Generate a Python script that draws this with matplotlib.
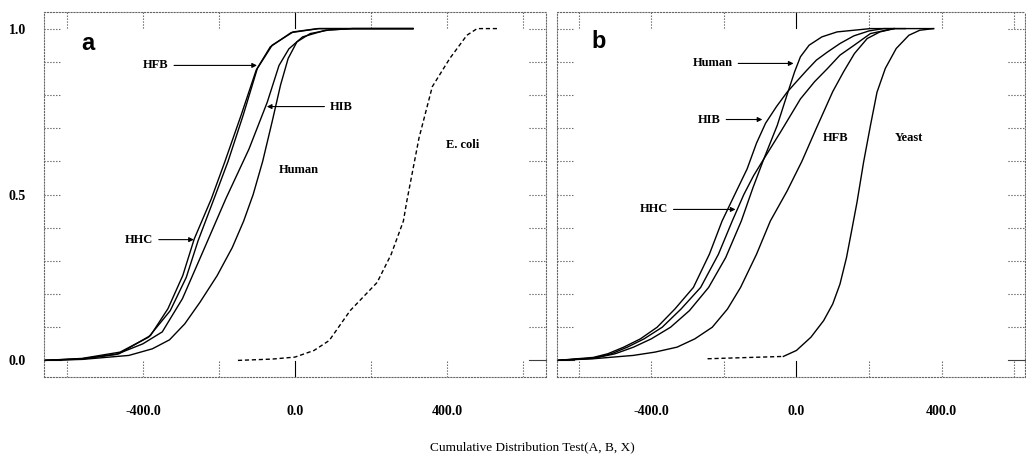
import numpy as np
import matplotlib.pyplot as plt

plt.rcParams['font.family'] = ['Liberation Serif', 'DejaVu Serif']

# ---- panel a: cumulative distributions ----
hfb_a_x = [-660, -560, -460, -385, -328, -286, -255, -212, -176, -136, -99, -60, -5, 60, 310]
hfb_a_y = [0.0, 0.006, 0.025, 0.07, 0.15, 0.25, 0.36, 0.49, 0.60, 0.74, 0.88, 0.95, 0.99, 1.0, 1.0]

hhc_a_x = [-660, -560, -463, -380, -334, -295, -265, -220, -185, -142, -102, -65, -10, 63, 310]
hhc_a_y = [0.0, 0.005, 0.02, 0.075, 0.156, 0.256, 0.366, 0.487, 0.597, 0.738, 0.875, 0.945, 0.988, 1.0, 1.0]

hib_a_x = [-660, -560, -470, -400, -349, -296, -239, -182, -121, -73, -42, -16, 20, 80, 150, 310]
hib_a_y = [0.0, 0.004, 0.018, 0.05, 0.086, 0.186, 0.336, 0.487, 0.637, 0.778, 0.889, 0.939, 0.975, 0.995, 1.0, 1.0]

human_a_x = [-660, -560, -437, -375, -330, -290, -250, -205, -165, -135, -110, -85, -60, -38, -18, 5, 40, 90, 151, 310]
human_a_y = [0.0, 0.003, 0.015, 0.035, 0.062, 0.11, 0.175, 0.255, 0.34, 0.42, 0.50, 0.60, 0.72, 0.83, 0.91, 0.96, 0.985, 0.996, 1.0, 1.0]

ecoli_x = [-150, -60, 0, 50, 90, 145, 216, 253, 285, 294, 326, 361, 407, 452, 479, 538]
ecoli_y = [0.0, 0.004, 0.01, 0.03, 0.06, 0.15, 0.235, 0.32, 0.42, 0.48, 0.67, 0.825, 0.91, 0.98, 1.0, 1.0]

# ---- panel b ----
human_b_x = [-660, -560, -500, -449, -400, -347, -295, -242, -195, -152, -120, -90, -53, -26,
             -5, 11, 35, 70, 112, 204, 378]
human_b_y = [0.0, 0.006, 0.02, 0.04, 0.065, 0.10, 0.15, 0.22, 0.31, 0.42, 0.52, 0.607, 0.708, 0.80,
             0.87, 0.915, 0.95, 0.975, 0.99, 1.0, 1.0]

hib_b_x = [-660, -560, -520, -476, -430, -384, -335, -284, -240, -205, -170, -136, -110, -85, -55,
           -26, 0, 29, 55, 85, 120, 158, 200, 240, 300]
hib_b_y = [0.0, 0.009, 0.02, 0.04, 0.065, 0.10, 0.155, 0.22, 0.32, 0.42, 0.50, 0.577, 0.655, 0.715, 0.765,
           0.808, 0.84, 0.875, 0.905, 0.929, 0.955, 0.978, 0.993, 1.0, 1.0]

hhc_b_x = [-660, -560, -510, -466, -420, -370, -318, -264, -215, -177, -145, -118, -90, -44, 11,
           50, 85, 120, 158, 204, 268]
hhc_b_y = [0.0, 0.007, 0.02, 0.04, 0.065, 0.10, 0.155, 0.22, 0.32, 0.42, 0.50, 0.557, 0.607, 0.688, 0.788,
           0.84, 0.879, 0.92, 0.949, 0.985, 1.0]

hfb_b_x = [-660, -560, -450, -390, -329, -280, -232, -190, -154, -110, -72, -26, 15, 55, 100,
           130, 160, 195, 230, 270]
hfb_b_y = [0.0, 0.005, 0.015, 0.025, 0.04, 0.065, 0.10, 0.155, 0.22, 0.32, 0.42, 0.51, 0.60, 0.70, 0.81,
           0.87, 0.925, 0.97, 0.99, 1.0]

yeast_tail_x = [-245, -36]
yeast_tail_y = [0.005, 0.012]
yeast_x = [-36, 0, 40, 75, 100, 120, 138, 152, 167, 185, 204, 222, 245, 275, 310, 340, 378]
yeast_y = [0.012, 0.03, 0.07, 0.12, 0.17, 0.23, 0.31, 0.39, 0.477, 0.597, 0.708, 0.808, 0.88, 0.94,
           0.98, 0.995, 1.0]

W, H = 1026, 459
fig = plt.figure(figsize=(W / 100, H / 100), dpi=100)

ax_a = fig.add_axes([44 / W, 1 - 377 / H, 502 / W, 365 / H])
ax_b = fig.add_axes([557 / W, 1 - 377 / H, 468 / W, 365 / H])
ax_a.set_xlim(-660, 660)
ax_b.set_xlim(-660, 630)


def frame(ax, width_px):
    for s in ax.spines.values():
        s.set_linestyle(':')
        s.set_linewidth(0.8)
        s.set_color('0.4')
    ax.set_ylim(-0.05, 1.05)
    tx = ax.get_yaxis_transform()
    ty = ax.get_xaxis_transform()
    d = 17 / width_px
    for yt in np.arange(0, 1.01, 0.1):
        ls = '-' if abs(yt) < 1e-6 else ':'
        ax.plot([0, d], [yt, yt], transform=tx, ls=ls, lw=0.8, color='0.25', clip_on=False)
        ax.plot([1 - d, 1], [yt, yt], transform=tx, ls=ls, lw=0.8, color='0.25', clip_on=False)
    e = 16 / 365
    for xt in range(-600, 601, 200):
        ls = '-' if xt == 0 else ':'
        c = 'k' if xt == 0 else '0.25'
        ax.plot([xt, xt], [0, e], transform=ty, ls=ls, lw=0.8, color=c)
        ax.plot([xt, xt], [1 - e, 1], transform=ty, ls=ls, lw=0.8, color=c)
    ax.set_xticks([-400, 0, 400])
    ax.set_xticklabels(['-400.0', '0.0', '400.0'], fontsize=10, fontweight='bold')
    ax.tick_params(axis='x', length=0, pad=20)
    ax.set_yticks([0, 0.5, 1.0])
    ax.tick_params(axis='y', length=0, pad=13)


frame(ax_a, 502)
frame(ax_b, 468)
ax_a.set_yticklabels(['0.0', '0.5', '1.0'], fontsize=10, fontweight='bold')
ax_b.set_yticklabels([])

lw = 1.0
ax_a.plot(hfb_a_x, hfb_a_y, color='k', lw=lw)
ax_a.plot(hhc_a_x, hhc_a_y, color='k', lw=lw)
ax_a.plot(hib_a_x, hib_a_y, color='k', lw=lw)
ax_a.plot(human_a_x, human_a_y, color='k', lw=lw)
ax_a.plot(ecoli_x, ecoli_y, color='k', lw=lw, ls=(0, (3, 2)))

ax_b.plot(human_b_x, human_b_y, color='k', lw=lw)
ax_b.plot(hib_b_x, hib_b_y, color='k', lw=lw)
ax_b.plot(hhc_b_x, hhc_b_y, color='k', lw=lw)
ax_b.plot(hfb_b_x, hfb_b_y, color='k', lw=lw)
ax_b.plot(yeast_tail_x, yeast_tail_y, color='k', lw=lw, ls=(0, (3, 2)))
ax_b.plot(yeast_x, yeast_y, color='k', lw=lw)

lab = dict(fontsize=9, fontweight='bold', va='center')
arr = dict(arrowstyle='-|>', lw=0.8, color='k', mutation_scale=7, shrinkA=2, shrinkB=0)

# panel a labels
ax_a.annotate('HFB', xy=(-100, 0.889), xytext=(-400, 0.889), arrowprops=arr, ha='left', **lab)
ax_a.annotate('HIB', xy=(-74, 0.765), xytext=(92, 0.765), arrowprops=arr, ha='left', **lab)
ax_a.annotate('HHC', xy=(-266, 0.364), xytext=(-447, 0.364), arrowprops=arr, ha='left', **lab)
ax_a.text(11, 0.575, 'Human', ha='center', **lab)
ax_a.text(440, 0.65, 'E. coli', ha='center', **lab)
ax_a.text(-545, 0.955, 'a', ha='center', va='center', fontsize=17, fontweight='bold',
          family='Liberation Sans')

# panel b labels
ax_b.annotate('Human', xy=(-8, 0.895), xytext=(-286, 0.895), arrowprops=arr, ha='left', **lab)
ax_b.annotate('HIB', xy=(-94, 0.726), xytext=(-272, 0.726), arrowprops=arr, ha='left', **lab)
ax_b.annotate('HHC', xy=(-168, 0.455), xytext=(-432, 0.455), arrowprops=arr, ha='left', **lab)
ax_b.text(109, 0.669, 'HFB', ha='center', **lab)
ax_b.text(310, 0.669, 'Yeast', ha='center', **lab)
ax_b.text(-545, 0.96, 'b', ha='center', va='center', fontsize=17, fontweight='bold',
          family='Liberation Sans')

fig.text(532 / W, 1 - 447 / H, 'Cumulative Distribution Test(A, B, X)', ha='center',
         va='center', fontsize=9.5)

fig.savefig('out.png', dpi=100)
